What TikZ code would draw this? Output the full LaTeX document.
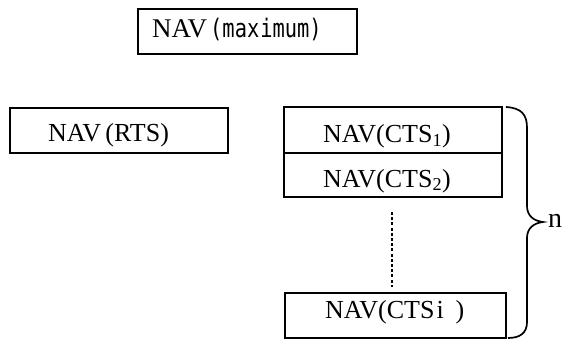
\documentclass[tikz,border=0pt]{standalone}
\usepackage{fontspec}
\setmainfont{Liberation Serif}
\newfontfamily\gothmono[FakeStretch=0.8]{DejaVu Sans Mono}
\begin{document}
\begin{tikzpicture}[x=1pt,y=-1pt,
  navbox/.style={draw=black,line width=2pt,inner sep=0pt},
  navtext/.style={anchor=base west,inner sep=0pt,font=\fontsize{26}{30}\selectfont}]
\useasboundingbox[fill=white] (0,0) rectangle (567,339);
% boxes
\draw[navbox] (138,9) rectangle (357,54);
\draw[navbox] (10,108) rectangle (228,153);
\draw[navbox] (284,107) rectangle (502,197);
\draw[line width=2.8pt] (284,153) -- (502,153);
\draw[navbox] (285,293) rectangle (506,338);
% texts
\node[navtext,font=\fontsize{27}{31}\selectfont] (tmax) at (152,38) {NAV\hspace{3pt}{\gothmono\fontsize{25.5}{29}\selectfont(max\hspace{1pt}imum)}};
\node[navtext] (trts) at (48,142) {NAV\,(RTS)};
\node[navtext] (tc1) at (323,143) {NAV(CTS\textsubscript{1})};
\node[navtext] (tc2) at (323,187) {NAV(CTS\textsubscript{2})};
\node[navtext] (tci) at (325,318) {NAV(CTS\hspace{2pt}i\hspace{12pt})};
% dotted connector
\coordinate (d1) at (392,212);
\coordinate (d2) at (392,287);
\draw[line width=1.7pt,dash pattern=on 3pt off 2.2pt] (d1) -- (d2);
% brace
\draw[line width=1.7pt]
  (506,107) .. controls (522,108) and (527,115) .. (527,128)
  -- (527,206) .. controls (527,216) and (534,221) .. (543,222)
  .. controls (534,223) and (527,228) .. (527,238)
  -- (527,322) .. controls (527,333) and (520,338) .. (508,338);
\node[anchor=base west,inner sep=0pt,font=\fontsize{28}{32}\selectfont] (n) at (548,227) {n};
\end{tikzpicture}
\end{document}
